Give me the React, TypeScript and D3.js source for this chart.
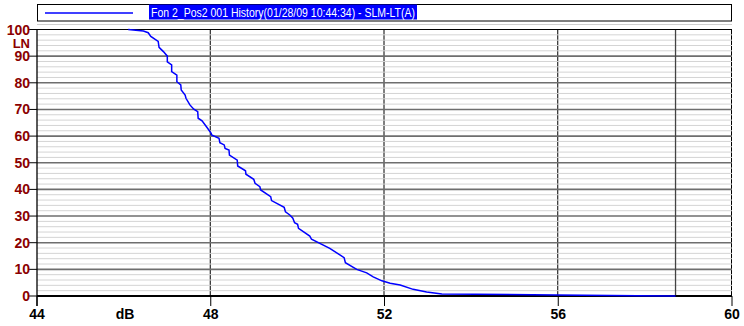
import React from "react";
import * as d3 from "d3";

const xTicks = [44, 48, 52, 56, 60];
const yTicks = [0, 10, 20, 30, 40, 50, 60, 70, 80, 90, 100];
const seriesName = "Fon 2_Pos2 001  History(01/28/09 10:44:34) - SLM-LT(A)";
const maxDb = 58.7;
const dbValues = [
  46.1, 46.45, 46.56, 46.62, 46.79, 46.81, 46.91, 47.0, 47.0, 47.1, 47.1, 47.22, 47.22, 47.31, 47.32,
  47.41, 47.43, 47.52, 47.61, 47.7, 47.71, 47.8, 47.91, 48.01, 48.02, 48.19, 48.21, 48.31, 48.33,
  48.42, 48.43, 48.61, 48.62, 48.8, 48.81, 48.99, 49.02, 49.13, 49.15, 49.38, 49.4, 49.69, 49.72,
  49.82, 49.89, 49.93, 50.0, 50.02, 50.28, 50.32, 50.74, 51.07, 51.1, 51.36, 51.59, 51.74, 51.94,
  52.13, 52.36, 52.66, 52.97, 53.32, 55.96, 57.8, 58.7,
];
const lnValues = [
  100, 99.4, 98.8, 97.4, 95.5, 93.3, 91.7, 90.0, 87.9, 86.7, 84.2, 82.9, 80.4, 79.2, 77.3,
  75.4, 74.2, 71.7, 70.1, 69.2, 66.7, 65.7, 63.3, 61.0, 60.4, 59.2, 57.5, 56.7, 55.4,
  54.8, 52.9, 51.0, 48.8, 47.0, 45.7, 43.8, 42.3, 41.0, 39.8, 37.3, 35.8, 33.3, 31.6,
  30.4, 29.2, 27.5, 26.9, 25.4, 22.5, 21.3, 17.9, 14.4, 12.5, 10.0, 8.7, 7.2, 5.7,
  4.8, 4.1, 2.5, 1.5, 0.75, 0.37, 0.1, 0,
];

export default function App() {
  const W = 744, H = 326;
  const L = 37, R = 732, T = 29.5, B = 296;
  const x = d3.scaleLinear().domain([44, 60]).range([L, R]);
  const y = d3.scaleLinear().domain([0, 100]).range([B, T]);
  const minor = d3.range(2, 100, 2).filter((v) => v % 10 !== 0);
  const major = yTicks.filter((v) => v > 0 && v < 100);
  const pts: [number, number][] = dbValues.map((d, i) => [d, lnValues[i]]);
  const line = d3.line<[number, number]>().x((d) => x(d[0])).y((d) => y(d[1]));
  const font = "'Liberation Sans', Arial, sans-serif";
  return (
    <svg width={W} height={H} style={{ position: "absolute", left: 0, top: 0, background: "#fff" }}>
      <rect x={0} y={0} width={W} height={H} fill="#fff" />
      {/* legend */}
      <rect x={L + 0.5} y={4.5} width={R - L - 1} height={16.5} fill="#fff" stroke="#000" strokeWidth={1} />
      <line x1={45} x2={133} y1={13} y2={13} stroke="#0000ff" strokeWidth={1.5} />
      <rect x={149} y={4.5} width={268} height={15} fill="#0000ff" />
      <text x={151} y={16.5} fill="#fff" fontFamily={font} fontSize={12} textLength={264} lengthAdjust="spacingAndGlyphs">
        {seriesName}
      </text>
      <line x1={L} x2={R} y1={24.5} y2={24.5} stroke="#cfcfcf" strokeWidth={1} />
      {/* vertical grid */}
      {xTicks.filter((v) => v > 44).map((v) => (
        <line key={"vx" + v} x1={x(v) - 0.5} x2={x(v) - 0.5} y1={T} y2={B} stroke="#000" strokeWidth={1} />
      ))}
      {/* horizontal minor grid */}
      {minor.map((v) => (
        <line key={"mn" + v} x1={L} x2={R} y1={y(v)} y2={y(v)} stroke="#d4d4d4" strokeWidth={1} />
      ))}
      {major.map((v) => (
        <line key={"mj" + v} x1={L} x2={R} y1={y(v)} y2={y(v)} stroke="#6e6e6e" strokeWidth={1.6} />
      ))}
      {/* max line */}
      <line x1={x(maxDb)} x2={x(maxDb)} y1={T} y2={B} stroke="#444" strokeWidth={1.3} />
      {/* frame */}
      <line x1={L} x2={R} y1={T} y2={T} stroke="#000" strokeWidth={1} />
      <line x1={L} x2={R} y1={B} y2={B} stroke="#000" strokeWidth={2} />
      <line x1={L} x2={L} y1={T} y2={B + 10} stroke="#000" strokeWidth={1.3} />
      {/* curve */}
      <path d={line(pts) || ""} fill="none" stroke="#0000ff" strokeWidth={1.5} />
      {/* y ticks */}
      {yTicks.map((v) => (
        <g key={"yt" + v}>
          <line x1={29} x2={L} y1={y(v)} y2={y(v)} stroke="#000" strokeWidth={1} />
          <text x={30} y={y(v) + 5} textAnchor="end" fill="#8b0000" fontFamily={font} fontWeight="bold" fontSize={14}>
            {v}
          </text>
        </g>
      ))}
      <text x={30} y={47.5} textAnchor="end" fill="#8b0000" fontFamily={font} fontWeight="bold" fontSize={13}>
        LN
      </text>
      {/* x ticks */}
      {xTicks.map((v) => (
        <g key={"xt" + v}>
          <line x1={x(v)} x2={x(v)} y1={B} y2={B + 10} stroke="#000" strokeWidth={1} />
          <text x={x(v)} y={319} textAnchor="middle" fill="#000" fontFamily={font} fontWeight="bold" fontSize={14}>
            {v}
          </text>
        </g>
      ))}
      <text x={125} y={319} textAnchor="middle" fill="#000" fontFamily={font} fontWeight="bold" fontSize={14}>
        dB
      </text>
    </svg>
  );
}
